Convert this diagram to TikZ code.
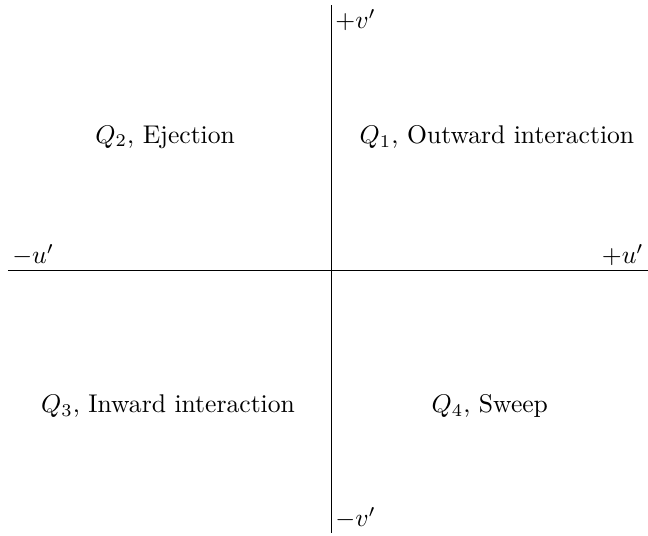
\documentclass[tikz,border=0pt]{standalone}
\begin{document}
\begin{tikzpicture}[x=1pt,y=1pt,
  axis/.style={line width=0.4pt},
  lbl/.style={inner sep=1.5pt},
  quad/.style={inner sep=0pt}]
\useasboundingbox (-129.3,-103.5) rectangle (123.8,105.5);
\coordinate (L) at (-126.2,0);
\coordinate (R) at (123.8,0);
\coordinate (T) at (0,103.5);
\coordinate (B) at (0,-102.7);
\draw[axis] (L) -- (R);
\draw[axis] (T) -- (B);
\node[lbl,anchor=north west] (vp) at (T) {$+v'$};
\node[lbl,anchor=south west] (vm) at (B) {$-v'$};
\node[lbl,anchor=south west] (um) at (L) {$-u'$};
\node[lbl,anchor=south east] (up) at (R) {$+u'$};
\node[quad] (q1) at (64.8,52) {$Q_1$, Outward interaction};
\node[quad] (q2) at (-64.8,52) {$Q_2$, Ejection};
\node[quad] (q3) at (-63.7,-53) {$Q_3$, Inward interaction};
\node[quad] (q4) at (62,-53) {$Q_4$, Sweep};
\end{tikzpicture}
\end{document}
